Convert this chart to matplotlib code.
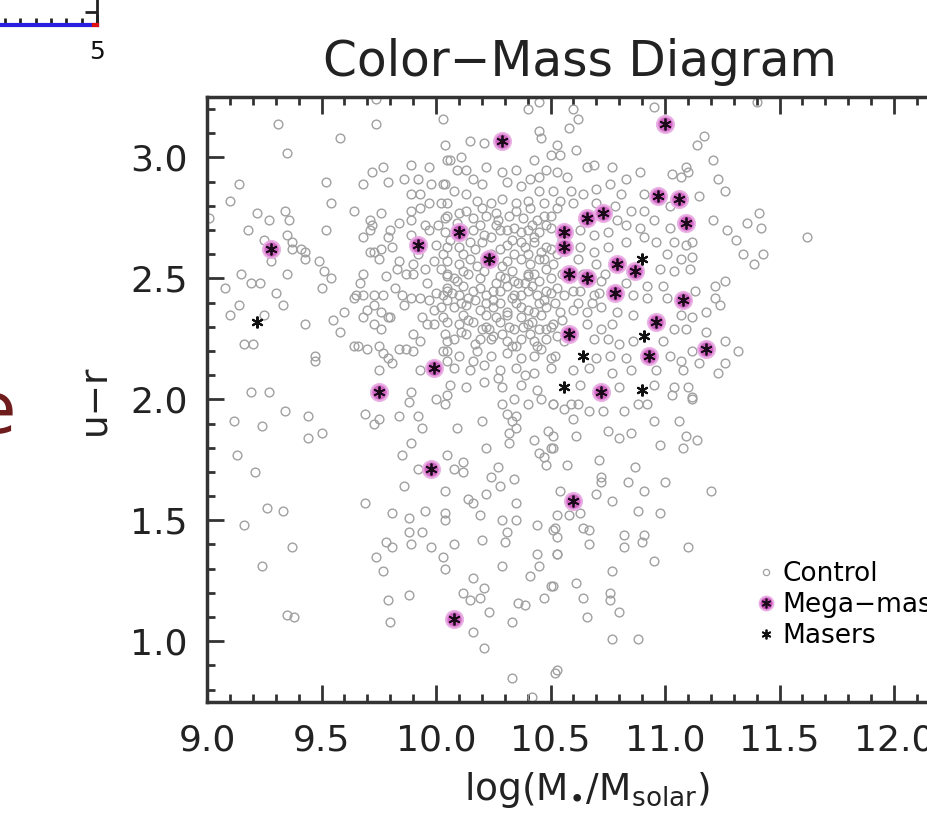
import matplotlib
matplotlib.use("Agg")
import matplotlib.pyplot as plt
from matplotlib.lines import Line2D
from matplotlib.legend_handler import HandlerTuple
from matplotlib.ticker import MultipleLocator, FormatStrFormatter

plt.rcParams["font.family"] = ["DejaVu Sans"]
plt.rcParams["mathtext.default"] = "regular"

# control galaxies (log stellar mass, u-r colour)
control_pts = [
    (9.74, 3.24), (9.74, 3.14), (9.31, 3.14), (9.58, 3.08), (9.35, 3.02), (9.14, 2.89), (9.52, 2.90),
    (9.10, 2.82), (9.54, 2.81), (9.64, 2.78), (9.22, 2.77), (9.27, 2.74), (9.34, 2.78), (9.36, 2.74),
    (9.18, 2.70), (9.52, 2.70), (9.25, 2.66), (9.35, 2.68), (9.37, 2.65), (9.37, 2.62), (9.41, 2.62),
    (9.43, 2.61), (9.28, 2.57), (9.43, 2.58), (9.49, 2.57), (9.51, 2.53), (9.54, 2.50), (9.15, 2.52),
    (9.35, 2.52), (9.19, 2.48), (9.23, 2.48), (9.08, 2.46), (9.30, 2.44), (9.14, 2.39), (9.33, 2.39),
    (9.10, 2.35), (9.25, 2.35), (9.50, 2.46), (9.43, 2.31), (9.55, 2.33), (9.58, 2.28), (9.60, 2.36),
    (9.16, 2.23), (9.20, 2.23), (9.47, 2.18), (9.47, 2.16), (9.19, 2.03), (9.27, 2.03), (9.75, 2.12),
    (9.89, 2.03), (9.01, 2.75),
    (9.68, 2.89), (9.72, 2.94), (9.77, 2.96), (9.79, 2.90), (9.86, 2.91), (9.89, 2.97), (9.92, 2.91),
    (9.97, 2.96), (9.89, 2.85), (9.93, 2.85), (9.98, 2.89), (10.03, 2.89), (10.04, 3.05), (10.03, 3.16),
    (10.05, 2.99), (9.76, 2.77), (9.71, 2.74), (9.72, 2.72), (9.71, 2.70), (9.84, 2.73), (9.89, 2.78),
    (9.89, 2.74), (9.93, 2.79), (9.97, 2.81), (10.02, 2.81), (10.04, 2.75), (10.01, 2.72), (9.97, 2.70),
    (9.89, 2.68), (9.68, 2.67), (9.80, 2.70), (9.79, 2.67), (9.81, 2.63), (9.73, 2.61), (9.71, 2.61),
    (9.76, 2.62), (9.75, 2.58), (9.84, 2.57), (9.83, 2.54), (9.78, 2.51), (9.87, 2.52), (9.90, 2.52),
    (9.90, 2.56), (9.95, 2.54), (9.99, 2.57), (10.02, 2.54), (10.03, 2.60), (10.05, 2.52), (9.68, 2.52),
    (9.67, 2.48), (9.65, 2.43), (9.64, 2.42), (9.68, 2.43), (9.73, 2.43), (9.77, 2.43), (9.73, 2.39),
    (9.70, 2.37), (9.68, 2.34), (9.76, 2.36), (9.79, 2.34), (9.80, 2.34), (9.85, 2.43), (9.86, 2.39),
    (9.89, 2.42), (9.93, 2.42), (9.97, 2.41), (9.99, 2.37), (9.96, 2.31), (9.99, 2.31), (10.02, 2.38),
    (10.03, 2.34), (10.05, 2.41), (10.03, 2.43), (10.05, 2.46), (9.73, 2.31), (9.76, 2.29), (9.90, 2.27),
    (9.93, 2.24), (9.90, 2.20), (9.87, 2.21), (9.84, 2.21), (9.64, 2.22), (9.66, 2.22), (9.70, 2.21),
    (9.75, 2.22), (9.77, 2.19), (9.79, 2.17), (9.81, 2.15), (9.93, 2.12), (10.03, 2.20), (10.05, 2.24),
    (10.05, 2.16), (10.04, 2.27),
    (10.40, 3.20), (10.45, 3.23), (10.60, 3.20), (10.62, 3.16), (10.58, 3.12), (10.15, 3.07), (10.21, 3.06),
    (10.45, 3.11), (10.46, 3.08), (10.53, 3.05), (10.54, 3.01), (10.50, 3.01), (10.61, 3.03), (10.66, 2.96),
    (10.69, 2.97), (10.77, 2.96), (10.95, 3.21), (10.89, 2.94), (10.06, 2.99), (10.11, 3.00), (10.09, 2.95),
    (10.13, 2.95), (10.22, 2.96), (10.29, 2.94), (10.35, 2.95), (10.41, 2.91), (10.45, 2.92), (10.48, 2.95),
    (10.53, 2.94), (10.57, 2.92), (10.43, 2.99), (10.31, 2.90), (10.20, 2.89), (10.16, 2.91), (10.04, 2.89),
    (10.08, 2.86), (10.13, 2.85), (10.37, 2.88), (10.45, 2.86), (10.51, 2.86), (10.59, 2.86), (10.64, 2.85),
    (10.70, 2.87), (10.76, 2.89), (10.83, 2.91), (10.81, 2.85), (10.91, 2.85), (11.03, 2.93), (11.07, 2.92),
    (11.02, 2.80), (10.05, 2.81), (10.18, 2.82), (10.24, 2.81), (10.29, 2.83), (10.35, 2.81), (10.40, 2.82),
    (10.47, 2.81), (10.54, 2.82), (10.60, 2.81), (10.70, 2.81), (10.78, 2.80), (10.85, 2.78), (10.91, 2.78),
    (10.05, 2.76), (10.10, 2.77), (10.16, 2.75), (10.22, 2.76), (10.27, 2.74), (10.32, 2.76), (10.38, 2.75),
    (10.44, 2.74), (10.50, 2.76), (10.79, 2.74), (10.83, 2.72), (10.89, 2.71), (10.95, 2.74), (11.02, 2.71),
    (10.04, 2.69), (10.16, 2.70), (10.21, 2.68), (10.28, 2.70), (10.34, 2.71), (10.40, 2.70), (10.45, 2.69),
    (10.50, 2.71), (10.63, 2.70), (10.69, 2.68), (10.75, 2.69), (10.83, 2.65), (10.91, 2.67), (10.96, 2.65),
    (11.04, 2.65), (11.09, 2.64), (10.05, 2.63), (10.10, 2.63), (10.15, 2.65), (10.31, 2.64), (10.37, 2.65),
    (10.43, 2.65), (10.48, 2.63), (10.63, 2.63), (10.69, 2.61), (10.75, 2.63), (11.01, 2.60), (11.07, 2.58),
    (10.05, 2.57), (10.10, 2.56), (10.15, 2.58), (10.31, 2.57), (10.37, 2.58), (10.41, 2.56), (10.47, 2.58),
    (10.51, 2.56), (10.70, 2.56), (10.98, 2.54), (11.04, 2.53), (10.05, 2.51), (10.09, 2.49), (10.14, 2.52),
    (10.19, 2.50), (10.28, 2.51), (10.34, 2.49), (10.40, 2.51), (10.45, 2.49), (10.50, 2.50), (10.72, 2.49),
    (10.83, 2.48), (10.92, 2.47), (10.99, 2.47), (10.05, 2.45), (10.10, 2.43), (10.16, 2.45), (10.22, 2.43),
    (10.28, 2.45), (10.34, 2.43), (10.40, 2.45), (10.44, 2.43), (10.50, 2.44), (10.56, 2.43), (10.63, 2.45),
    (10.69, 2.43), (10.86, 2.43), (10.92, 2.42), (11.01, 2.42), (10.08, 2.38), (10.13, 2.39), (10.19, 2.37),
    (10.25, 2.38), (10.31, 2.36), (10.37, 2.38), (10.43, 2.36), (10.48, 2.38), (10.54, 2.36), (10.60, 2.37),
    (10.66, 2.36), (10.72, 2.38), (10.79, 2.36), (10.86, 2.35), (11.07, 2.35), (10.05, 2.32), (10.10, 2.31),
    (10.16, 2.32), (10.22, 2.30), (10.28, 2.32), (10.34, 2.29), (10.40, 2.31), (10.45, 2.29), (10.51, 2.31),
    (10.66, 2.31), (10.72, 2.29), (10.77, 2.31), (11.04, 2.29), (10.08, 2.25), (10.13, 2.27), (10.19, 2.25),
    (10.25, 2.26), (10.31, 2.24), (10.37, 2.25), (10.43, 2.24), (10.48, 2.25), (10.69, 2.25), (10.75, 2.25),
    (10.80, 2.23), (10.86, 2.24), (10.99, 2.24), (10.05, 2.20), (10.10, 2.18), (10.18, 2.20), (10.24, 2.18),
    (10.31, 2.19), (10.37, 2.17), (10.43, 2.18), (10.50, 2.17), (10.70, 2.17), (10.76, 2.18), (10.83, 2.17),
    (11.02, 2.18), (11.07, 2.16), (10.08, 2.13), (10.15, 2.12), (10.21, 2.14), (10.28, 2.12), (10.35, 2.13),
    (10.43, 2.11), (10.50, 2.13), (10.60, 2.12), (10.67, 2.13), (10.77, 2.11), (10.85, 2.12), (10.96, 2.12),
    (10.06, 2.06), (10.13, 2.05), (10.21, 2.07), (10.29, 2.05), (10.37, 2.06), (10.44, 2.04), (10.63, 2.06),
    (10.80, 2.05), (10.95, 2.06), (11.04, 2.05),
    (10.25, 2.45), (10.30, 2.50), (10.35, 2.40), (10.40, 2.52), (10.28, 2.62), (10.33, 2.66), (10.42, 2.72),
    (10.45, 2.58), (10.38, 2.30), (10.45, 2.40), (10.22, 2.40), (10.18, 2.55), (10.26, 2.72), (10.50, 2.62),
    (10.36, 2.48), (10.31, 2.35), (10.48, 2.45), (10.14, 2.42), (10.12, 2.35), (10.44, 2.22), (10.52, 2.18),
    (10.50, 2.30), (10.40, 2.60), (10.20, 2.65), (10.24, 2.25),
    (10.12, 2.60), (10.17, 2.62), (10.24, 2.60), (10.29, 2.55), (10.34, 2.60), (10.39, 2.63), (10.46, 2.61),
    (10.53, 2.60), (10.12, 2.53), (10.21, 2.53), (10.26, 2.48), (10.33, 2.53), (10.39, 2.48), (10.43, 2.52),
    (10.48, 2.54), (10.55, 2.52), (10.12, 2.47), (10.19, 2.46), (10.25, 2.41), (10.31, 2.47), (10.37, 2.43),
    (10.42, 2.47), (10.47, 2.41), (10.53, 2.46), (10.11, 2.40), (10.17, 2.41), (10.22, 2.35), (10.28, 2.40),
    (10.33, 2.42), (10.40, 2.37), (10.46, 2.35), (10.52, 2.40), (10.14, 2.33), (10.20, 2.29), (10.26, 2.34),
    (10.32, 2.30), (10.37, 2.34), (10.42, 2.32), (10.48, 2.29), (10.55, 2.33), (10.11, 2.28), (10.17, 2.23),
    (10.23, 2.29), (10.29, 2.27), (10.35, 2.22), (10.41, 2.27), (10.46, 2.21), (10.53, 2.26), (10.12, 2.70),
    (10.19, 2.72), (10.24, 2.67), (10.31, 2.70), (10.37, 2.69), (10.43, 2.67), (10.48, 2.72), (10.55, 2.66),
    (10.13, 2.78), (10.20, 2.79), (10.26, 2.77), (10.35, 2.78), (10.41, 2.79), (10.47, 2.76), (10.53, 2.79),
    (10.62, 2.58), (10.64, 2.52), (10.60, 2.45), (10.62, 2.40), (10.71, 2.44), (10.74, 2.52), (10.68, 2.40),
    (9.92, 2.60), (9.96, 2.48), (9.82, 2.46), (9.94, 2.34), (10.00, 2.44), (10.00, 2.64), (9.95, 2.72),
    (10.08, 2.50), (10.06, 2.66), (10.09, 2.73), (10.07, 2.44), (10.16, 2.16), (10.27, 2.09), (10.39, 2.10),
    (10.33, 2.22), (10.56, 2.24),
    (11.40, 3.23), (11.17, 3.09), (11.14, 3.05), (11.21, 2.99), (11.09, 2.96), (11.10, 2.94), (11.23, 2.91),
    (11.26, 2.86), (11.15, 2.84), (11.41, 2.77), (11.36, 2.73), (11.42, 2.71), (11.21, 2.74), (11.27, 2.70),
    (11.31, 2.66), (11.62, 2.67), (11.12, 2.65), (11.12, 2.59), (11.34, 2.60), (11.43, 2.60), (11.39, 2.56),
    (11.11, 2.54), (11.22, 2.47), (11.26, 2.49), (11.13, 2.45), (11.22, 2.42), (11.24, 2.39), (11.18, 2.36),
    (11.12, 2.34), (11.09, 2.29), (11.18, 2.28), (11.26, 2.24), (11.32, 2.20), (11.12, 2.20), (11.15, 2.15),
    (11.26, 2.15), (11.23, 2.11), (11.08, 2.12), (11.10, 2.05), (11.12, 2.01),
    (9.12, 1.91), (9.24, 1.89), (9.34, 1.95), (9.44, 1.93), (9.44, 1.84), (9.50, 1.86), (9.13, 1.77),
    (9.21, 1.70), (9.26, 1.55), (9.33, 1.54), (9.16, 1.48), (9.37, 1.39), (9.24, 1.31), (9.35, 1.11),
    (9.38, 1.10), (9.69, 1.94), (9.73, 1.90), (9.75, 1.92), (9.84, 1.93), (9.88, 1.99), (9.92, 1.93),
    (9.94, 1.88), (10.00, 2.00), (10.04, 1.98), (10.05, 2.02), (10.09, 1.88), (10.20, 1.91), (9.85, 1.77),
    (9.89, 1.82), (9.92, 1.71), (10.08, 1.71), (10.12, 1.70), (10.12, 1.74), (10.05, 1.77), (10.04, 1.62),
    (10.22, 1.80), (10.24, 1.68), (10.27, 1.72), (10.28, 1.64), (10.34, 1.67), (10.22, 1.61), (9.86, 1.64),
    (9.69, 1.57), (9.81, 1.53), (9.88, 1.51), (9.95, 1.54), (10.04, 1.53), (10.04, 1.50), (10.14, 1.59),
    (10.16, 1.57), (10.19, 1.52), (9.78, 1.41), (9.81, 1.39), (9.88, 1.45), (9.89, 1.40), (9.94, 1.45),
    (9.98, 1.39), (10.08, 1.40), (10.03, 1.35), (10.04, 1.30), (9.74, 1.35), (9.77, 1.29), (9.79, 1.17),
    (9.88, 1.19), (9.80, 1.08), (10.16, 1.26), (10.12, 1.20), (10.15, 1.17), (10.19, 1.18), (10.21, 1.22),
    (10.20, 1.42), (10.23, 1.12), (10.16, 1.04), (10.21, 0.97), (10.33, 0.85), (10.33, 1.08), (10.29, 1.50),
    (10.35, 1.50), (10.35, 1.57), (10.31, 1.45), (10.30, 1.41), (10.29, 1.31), (10.36, 1.16), (10.39, 1.15),
    (10.41, 1.27), (10.44, 1.36), (10.45, 1.31), (10.47, 1.18), (10.50, 1.23), (10.44, 1.48), (10.51, 1.46),
    (10.53, 1.36), (10.52, 0.87), (10.29, 1.98), (10.34, 2.00), (10.31, 1.94), (10.33, 1.91), (10.35, 1.93),
    (10.32, 1.86), (10.32, 1.82), (10.35, 1.88), (10.40, 1.98), (10.43, 1.83), (10.45, 1.78), (10.47, 1.76),
    (10.48, 1.73), (10.49, 1.87), (10.50, 1.80), (10.51, 1.98), (10.46, 2.00), (10.42, 0.77),
    (10.59, 1.98), (10.62, 1.98), (10.67, 1.95), (10.73, 1.95), (10.51, 1.98), (10.56, 1.96), (10.60, 1.92),
    (10.61, 1.85), (10.51, 1.85), (10.51, 1.80), (10.75, 1.87), (10.80, 1.84), (10.85, 1.86), (10.82, 1.95),
    (10.88, 1.98), (10.92, 1.98), (10.95, 1.91), (11.03, 2.02), (11.06, 1.91), (11.12, 2.00), (10.98, 1.81),
    (11.08, 1.80), (11.09, 1.85), (11.14, 1.83), (10.71, 1.75), (10.87, 1.72), (10.57, 1.73), (10.72, 1.68),
    (10.72, 1.66), (10.84, 1.66), (10.91, 1.62), (11.00, 1.66), (11.20, 1.62), (10.70, 1.61), (10.77, 1.58),
    (10.54, 1.62), (10.53, 1.52), (10.58, 1.52), (10.63, 1.53), (10.88, 1.54), (10.98, 1.53), (10.64, 1.47),
    (10.67, 1.46), (10.52, 1.47), (10.53, 1.43), (10.67, 1.40), (10.82, 1.44), (10.82, 1.39), (10.91, 1.44),
    (10.90, 1.41), (11.10, 1.39), (10.53, 1.36), (10.95, 1.33), (10.77, 1.29), (10.61, 1.24), (10.64, 1.18),
    (10.76, 1.20), (10.76, 1.17), (10.80, 1.12), (10.66, 1.10), (10.77, 1.01), (10.88, 1.01), (10.51, 1.23),
    (10.53, 0.88),
]
control_mass = [p[0] for p in control_pts]
control_color = [p[1] for p in control_pts]

# mega-maser hosts
mega_mass = [9.28, 9.92, 9.99, 9.75, 10.29, 11.00, 10.97, 11.06, 11.09, 10.66, 10.73, 10.10, 10.56, 10.56,
             10.23, 10.58, 10.66, 10.79, 10.87, 10.78, 11.08, 10.96, 10.58, 10.93, 10.72, 11.18, 9.98, 10.08,
             10.60]
mega_color = [2.62, 2.64, 2.13, 2.03, 3.07, 3.14, 2.84, 2.83, 2.73, 2.75, 2.77, 2.69, 2.69, 2.63,
              2.58, 2.52, 2.50, 2.56, 2.53, 2.44, 2.41, 2.32, 2.27, 2.18, 2.03, 2.21, 1.71, 1.09,
              1.58]

# other maser hosts
maser_mass = [9.22, 10.90, 10.91, 10.64, 10.56, 10.90]
maser_color = [2.32, 2.58, 2.26, 2.18, 2.05, 2.04]

# neighbouring panel, only its lower-right corner shows
side_x = [2.55, 5.0]
side_y = [0.0, 0.0]
side_red_x = [[2.55, 2.6], [3.25, 3.33], [3.9, 3.98], [4.98, 5.0]]

W, H = 927, 823
fig = plt.figure(figsize=(W / 100, H / 100), dpi=100)
ax = fig.add_axes([207 / W, 1 - 701.7 / H, (1008.5 - 207) / W, (701.7 - 97) / H])

grey = "#a0a0a0"
pink = "#c955bc"
pink_rim = "#e9ace3"
ast = (6, 2, 0)
ax.plot(control_mass, control_color, "o", ls="none", mfc="none", mec=grey, ms=6.3, mew=1.0)
ax.plot(mega_mass, mega_color, "o", ls="none", mfc=pink, mec=pink_rim, ms=12, mew=1.8, alpha=0.9)
ax.plot(mega_mass, mega_color, marker=ast, ls="none", color="#1a0a1a", ms=8.5, mew=1.3)
ax.plot(maser_mass, maser_color, marker=ast, ls="none", color="#111111", ms=8.5, mew=1.5)

ax.set_xlim(9.0, 12.5)
ax.set_ylim(0.75, 3.25)
ax.xaxis.set_major_locator(MultipleLocator(0.5))
ax.xaxis.set_minor_locator(MultipleLocator(0.1))
ax.yaxis.set_major_locator(MultipleLocator(0.5))
ax.yaxis.set_minor_locator(MultipleLocator(0.1))
ax.xaxis.set_major_formatter(FormatStrFormatter("%.1f"))
ax.yaxis.set_major_formatter(FormatStrFormatter("%.1f"))
ax.tick_params(which="both", direction="in", top=True, right=True, width=2, color="#333333")
ax.tick_params(which="major", length=12, labelsize=26, labelcolor="#222222")
ax.tick_params(which="minor", length=6)
ax.tick_params(axis="x", pad=16)
ax.tick_params(axis="y", pad=14)
for s in ax.spines.values():
    s.set_linewidth(2.5)
    s.set_color("#333333")

fig.text(580 / W, 1 - 62 / H, "Color\u2212Mass Diagram", ha="center", va="center", fontsize=35, color="#222222")
fig.text(587 / W, 1 - 790 / H, r"log(M$_{\bullet}$/M$_{solar}$)", ha="center", va="center", fontsize=27,
         color="#222222")
fig.text(95 / W, 1 - 400 / H, "u\u2212r", rotation=90, ha="center", va="center", fontsize=27, color="#222222")

h_ctrl = Line2D([], [], marker="o", ls="none", mfc="none", mec=grey, ms=4.5, mew=0.9)
h_mega = (Line2D([], [], marker="o", ls="none", mfc=pink, mec=pink_rim, ms=10, mew=1.4),
          Line2D([], [], marker=ast, ls="none", color="#1a0a1a", ms=7, mew=1.2))
h_maser = Line2D([], [], marker=ast, ls="none", color="#111111", ms=7, mew=1.3)
ax.legend([h_ctrl, h_mega, h_maser], ["Control", "Mega\u2212masers", "Masers"],
          handler_map={tuple: HandlerTuple(ndivide=1)},
          loc="upper left", bbox_to_anchor=(0.688, 0.233), frameon=False, fontsize=19,
          handlelength=0.6, handletextpad=0.3, labelspacing=0.2, borderaxespad=0, borderpad=0)

# corner of the neighbouring panel at the top left
ax2 = fig.add_axes([-0.3, 1 - 25 / H, 0.3 + 97 / W, 0.2])
ax2.set_xlim(2.55, 5.0)
ax2.set_ylim(0, 1)
ax2.plot(side_x, side_y, color="#2a1ee0", lw=3, clip_on=False, zorder=3)
for seg in side_red_x:
    ax2.plot(seg, [0, 0], color="#e01010", lw=3, clip_on=False, zorder=4)
ax2.xaxis.set_minor_locator(MultipleLocator(0.1))
ax2.yaxis.tick_right()
ax2.set_yticks([0.08])
ax2.tick_params(which="both", direction="in", width=2, color="#222222", labelright=False)
ax2.tick_params(axis="x", which="major", length=8, pad=11)
ax2.tick_params(axis="x", which="minor", length=5)
ax2.tick_params(axis="y", length=9)
ax2.set_xticks([5])
ax2.set_xticklabels(["5"], fontsize=18, color="#111111")
for s in ax2.spines.values():
    s.set_linewidth(2)
    s.set_color("#222222")

# edge of a large red letter from the slide
fig.text(-0.006, 1 - 414 / H, "e", ha="center", va="center", fontsize=52, color="#6e1c1c")

fig.savefig("out.png", dpi=100)
